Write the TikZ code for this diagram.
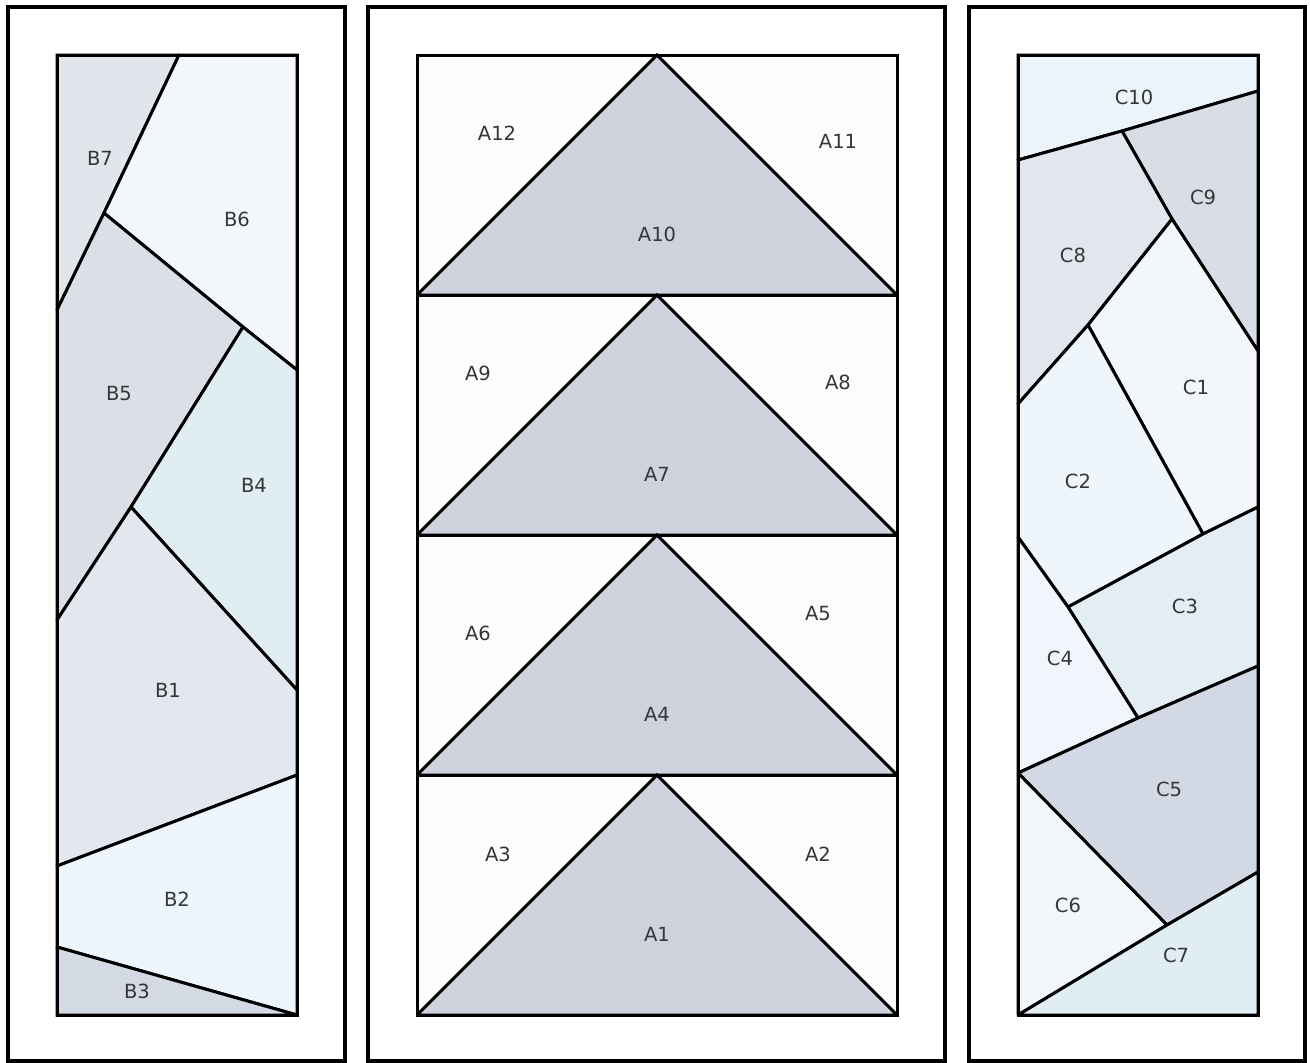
\documentclass[tikz,border=0pt]{standalone}
\usepackage{fontspec}
\setmainfont{DejaVu Sans}
\definecolor{cB7}{HTML}{E1E5EC}
\definecolor{cB6}{HTML}{F3F7FC}
\definecolor{cB5}{HTML}{DBE0E8}
\definecolor{cB4}{HTML}{E0EDF2}
\definecolor{cB1}{HTML}{E3E7EF}
\definecolor{cB2}{HTML}{EEF6FD}
\definecolor{cB3}{HTML}{D4DAE4}
\definecolor{cAbg}{HTML}{FCFCFC}
\definecolor{cAtri}{HTML}{CED2DC}
\definecolor{cC10}{HTML}{EAF4FA}
\definecolor{cC9}{HTML}{D8DDE6}
\definecolor{cC8}{HTML}{E2E6EE}
\definecolor{cC1}{HTML}{F3F7FC}
\definecolor{cC2}{HTML}{EEF5FB}
\definecolor{cC3}{HTML}{E2EEF4}
\definecolor{cC4}{HTML}{F0F6FB}
\definecolor{cC5}{HTML}{D3D9E4}
\definecolor{cC6}{HTML}{F3F7FC}
\definecolor{cC7}{HTML}{E0EDF2}
\definecolor{labtext}{HTML}{363636}
\tikzset{
  piece/.style={draw=black, line width=3pt, line join=miter, miter limit=1.5},
  frame/.style={draw=black, line width=3.5pt},
  lab/.style={text=labtext, font=\fontsize{19.5}{19.5}\selectfont, inner sep=0pt, anchor=center}
}
\begin{document}
\begin{tikzpicture}[x=1pt,y=-1pt]
\useasboundingbox (0,0) rectangle (1310,1063);
\fill[white] (0,0) rectangle (1310,1063);
% outer frames
\draw[frame] (8,7) rectangle (345,1061);
\draw[frame] (368,7) rectangle (945,1061);
\draw[frame] (969,7) rectangle (1305,1061);

% ---------- Panel B ----------
\coordinate (bTL) at (57,55);
\coordinate (bTR) at (297,55);
\coordinate (bBR) at (297,1015);
\coordinate (bBL) at (57,1015);
\coordinate (ba) at (179,55);
\coordinate (bb) at (57,310);
\coordinate (bj1) at (104,213);
\coordinate (bc) at (297,370);
\coordinate (bj2) at (243,327);
\coordinate (bj3) at (131,507);
\coordinate (bd) at (57,620);
\coordinate (be) at (297,690);
\coordinate (bf) at (57,866);
\coordinate (bg) at (297,775);
\coordinate (bh) at (57,947);
\path[piece, fill=cB7] (bTL) -- (ba) -- (bj1) -- (bb) -- cycle;
\path[piece, fill=cB6] (ba) -- (bTR) -- (bc) -- (bj2) -- (bj1) -- cycle;
\path[piece, fill=cB5] (bb) -- (bj1) -- (bj2) -- (bj3) -- (bd) -- cycle;
\path[piece, fill=cB4] (bj2) -- (bc) -- (be) -- (bj3) -- cycle;
\path[piece, fill=cB1] (bd) -- (bj3) -- (be) -- (bg) -- (bf) -- cycle;
\path[piece, fill=cB2] (bf) -- (bg) -- (bBR) -- (bh) -- cycle;
\path[piece, fill=cB3] (bh) -- (bBR) -- (bBL) -- cycle;
\draw[piece] (bTL) rectangle (bBR);
\node[lab] (B7) at (100,158) {B7};
\node[lab] (B6) at (237,219) {B6};
\node[lab] (B5) at (119,394) {B5};
\node[lab] (B4) at (254,485) {B4};
\node[lab] (B1) at (168,690) {B1};
\node[lab] (B2) at (177,899) {B2};
\node[lab] (B3) at (137,991) {B3};

% ---------- Panel A ----------
\foreach \t in {55,295,535,775}{
  \path[piece, fill=cAbg] (417,\t) rectangle (897,\t+240);
  \path[piece, fill=cAtri] (417,\t+240) -- (657,\t) -- (897,\t+240) -- cycle;
}
\draw[piece] (417,55) rectangle (897,1015);
\node[lab] (A12) at (497,133) {A12};
\node[lab] (A11) at (838,141) {A11};
\node[lab] (A10) at (657,234) {A10};
\node[lab] (A9) at (478,373) {A9};
\node[lab] (A8) at (838,382) {A8};
\node[lab] (A7) at (657,474) {A7};
\node[lab] (A6) at (478,633) {A6};
\node[lab] (A5) at (818,614) {A5};
\node[lab] (A4) at (657,714) {A4};
\node[lab] (A3) at (498,854) {A3};
\node[lab] (A2) at (818,854) {A2};
\node[lab] (A1) at (657,934) {A1};

% ---------- Panel C ----------
\coordinate (cTL) at (1018,55);
\coordinate (cTR) at (1258,55);
\coordinate (cBR) at (1258,1015);
\coordinate (cBL) at (1018,1015);
\coordinate (ck1) at (1018,160);
\coordinate (ck2) at (1258,91);
\coordinate (ck3) at (1122,131);
\coordinate (ck5) at (1172,219);
\coordinate (ck4) at (1258,351);
\coordinate (ck6) at (1088,325);
\coordinate (ck7) at (1018,404);
\coordinate (ck8) at (1203,534);
\coordinate (ck9) at (1258,507);
\coordinate (ck10) at (1068,607);
\coordinate (ck11) at (1018,537);
\coordinate (ck12) at (1138,718);
\coordinate (ck13) at (1258,666);
\coordinate (ck14) at (1018,773);
\coordinate (ck15) at (1167,925);
\coordinate (ck16) at (1258,872);
\path[piece, fill=cC10] (cTL) -- (cTR) -- (ck2) -- (ck3) -- (ck1) -- cycle;
\path[piece, fill=cC9] (ck3) -- (ck2) -- (ck4) -- (ck5) -- cycle;
\path[piece, fill=cC8] (ck1) -- (ck3) -- (ck5) -- (ck6) -- (ck7) -- cycle;
\path[piece, fill=cC1] (ck5) -- (ck4) -- (ck9) -- (ck8) -- (ck6) -- cycle;
\path[piece, fill=cC2] (ck7) -- (ck6) -- (ck8) -- (ck10) -- (ck11) -- cycle;
\path[piece, fill=cC3] (ck10) -- (ck8) -- (ck9) -- (ck13) -- (ck12) -- cycle;
\path[piece, fill=cC4] (ck11) -- (ck10) -- (ck12) -- (ck14) -- cycle;
\path[piece, fill=cC5] (ck14) -- (ck12) -- (ck13) -- (ck16) -- (ck15) -- cycle;
\path[piece, fill=cC6] (ck14) -- (ck15) -- (cBL) -- cycle;
\path[piece, fill=cC7] (cBL) -- (ck15) -- (ck16) -- (cBR) -- cycle;
\draw[piece] (cTL) rectangle (cBR);
\node[lab] (C10) at (1134,97) {C10};
\node[lab] (C9) at (1203,197) {C9};
\node[lab] (C8) at (1073,255) {C8};
\node[lab] (C1) at (1196,387) {C1};
\node[lab] (C2) at (1078,481) {C2};
\node[lab] (C3) at (1185,606) {C3};
\node[lab] (C4) at (1060,658) {C4};
\node[lab] (C5) at (1169,789) {C5};
\node[lab] (C6) at (1068,905) {C6};
\node[lab] (C7) at (1176,955) {C7};
\end{tikzpicture}
\end{document}
